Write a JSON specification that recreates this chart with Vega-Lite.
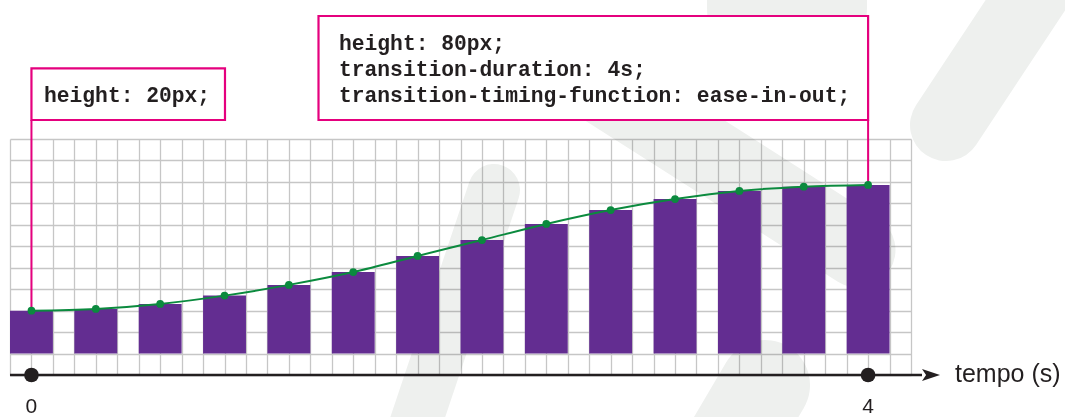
{
  "$schema": "https://vega.github.io/schema/vega-lite/v6.json",
  "width": 901,
  "height": 236,
  "autosize": "none",
  "padding": {"left": 10, "top": 139, "right": 154, "bottom": 42},
  "background": "white",
  "config": {"view": {"stroke": null}},
  "data": {"values": [
    {"t": 0, "h": 20.0},
    {"t": 0.307692, "h": 20.8},
    {"t": 0.615385, "h": 23.1},
    {"t": 0.923077, "h": 27.0},
    {"t": 1.230769, "h": 32.0},
    {"t": 1.538462, "h": 38.0},
    {"t": 1.846154, "h": 45.5},
    {"t": 2.153846, "h": 52.9},
    {"t": 2.461538, "h": 60.4},
    {"t": 2.769231, "h": 66.9},
    {"t": 3.076923, "h": 72.0},
    {"t": 3.384615, "h": 75.8},
    {"t": 3.692308, "h": 77.8},
    {"t": 4, "h": 78.6}
  ]},
  "layer": [
    {
      "data": {"values": [{}]},
      "mark": {"type": "rule", "color": "#eef0ee", "strokeWidth": 72, "strokeCap": "round", "blend": "multiply"},
      "encoding": {
        "x": {"datum": 5.085, "type": "quantitative",
          "scale": {"domain": [-0.102564, 4.205128], "nice": false, "zero": false, "padding": 0},
          "axis": {"title": null, "labels": false, "ticks": false, "domain": false, "grid": true, "gridColor": "#c6c6c6", "gridWidth": 1.3, "tickCount": 200,
            "values": [-0.102564, 0, 0.102564, 0.205128, 0.307692, 0.410256, 0.512821, 0.615385, 0.717949, 0.820513, 0.923077, 1.025641, 1.128205, 1.230769, 1.333333, 1.435897, 1.538462, 1.641026, 1.74359, 1.846154, 1.948718, 2.051282, 2.153846, 2.25641, 2.358974, 2.461538, 2.564103, 2.666667, 2.769231, 2.871795, 2.974359, 3.076923, 3.179487, 3.282051, 3.384615, 3.487179, 3.589744, 3.692308, 3.794872, 3.897436, 4.0, 4.102564, 4.205128]}},
        "x2": {"datum": 4.3725},
        "y": {"datum": 211.4, "type": "quantitative",
          "scale": {"domain": [-10, 100], "nice": false, "zero": false, "padding": 0},
          "axis": {"title": null, "labels": false, "ticks": false, "domain": false, "grid": true, "gridColor": "#c6c6c6", "gridWidth": 1.3, "tickCount": 200,
            "values": [-10, 0, 10, 20, 30, 40, 50, 60, 70, 80, 90, 100]}},
        "y2": {"datum": 106.5}
      }
    },
    {
      "data": {"values": [{}]},
      "mark": {"type": "rule", "color": "#eef0ee", "strokeWidth": 75, "strokeCap": "round", "blend": "multiply"},
      "encoding": {
        "x": {"datum": 2.527, "type": "quantitative"}, "x2": {"datum": 3.9517},
        "y": {"datum": 136.8, "type": "quantitative"}, "y2": {"datum": 48.26}
      }
    },
    {
      "data": {"values": [{}]},
      "mark": {"type": "rule", "color": "#eef0ee", "strokeWidth": 52, "strokeCap": "round", "blend": "multiply"},
      "encoding": {
        "x": {"datum": 2.2114, "type": "quantitative"}, "x2": {"datum": 1.762},
        "y": {"datum": 76.2, "type": "quantitative"}, "y2": {"datum": -54.3}
      }
    },
    {
      "data": {"values": [{}]},
      "mark": {"type": "rule", "color": "#eef0ee", "strokeWidth": 90, "strokeCap": "round", "blend": "multiply"},
      "encoding": {
        "x": {"datum": 3.5071, "type": "quantitative"}, "x2": {"datum": 3.2681},
        "y": {"datum": -14.7, "type": "quantitative"}, "y2": {"datum": -54.3}
      }
    },
    {
      "data": {"values": [{}]},
      "mark": {"type": "rule", "color": "#eef0ee", "strokeWidth": 160, "strokeCap": "round", "blend": "multiply"},
      "encoding": {
        "x": {"datum": 3.6123, "type": "quantitative"}, "x2": {"datum": 3.6123},
        "y": {"datum": 202.1, "type": "quantitative"}, "y2": {"datum": 161.1}
      }
    },
    {
      "mark": {"type": "bar", "color": "#632d91", "width": 42.9},
      "encoding": {
        "x": {"field": "t", "type": "quantitative"},
        "y": {"field": "h", "type": "quantitative"},
        "y2": {"datum": 0}
      }
    },
    {
      "data": {"values": [{}]},
      "mark": {"type": "rule", "color": "#e5007e", "strokeWidth": 2},
      "encoding": {
        "x": {"datum": 0, "type": "quantitative"},
        "y": {"datum": 20, "type": "quantitative"}, "y2": {"datum": 108.86}
      }
    },
    {
      "data": {"values": [{}]},
      "mark": {"type": "rule", "color": "#e5007e", "strokeWidth": 2},
      "encoding": {
        "x": {"datum": 4, "type": "quantitative"},
        "y": {"datum": 78.6, "type": "quantitative"}, "y2": {"datum": 108.86}
      }
    },
    {
      "mark": {"type": "line", "color": "#0b8a3e", "strokeWidth": 2, "interpolate": "monotone"},
      "encoding": {
        "x": {"field": "t", "type": "quantitative"},
        "y": {"field": "h", "type": "quantitative"}
      }
    },
    {
      "mark": {"type": "point", "filled": true, "color": "#0b8a3e", "size": 60, "opacity": 1},
      "encoding": {
        "x": {"field": "t", "type": "quantitative"},
        "y": {"field": "h", "type": "quantitative"}
      }
    },
    {
      "data": {"values": [{}]},
      "mark": {"type": "rect", "fill": "white", "stroke": "#e5007e", "strokeWidth": 2.2},
      "encoding": {
        "x": {"datum": 0, "type": "quantitative"}, "x2": {"datum": 0.9253},
        "y": {"datum": 132.95, "type": "quantitative"}, "y2": {"datum": 108.86}
      }
    },
    {
      "data": {"values": [{}]},
      "mark": {"type": "rect", "fill": "white", "stroke": "#e5007e", "strokeWidth": 2.2},
      "encoding": {
        "x": {"datum": 1.3724, "type": "quantitative"}, "x2": {"datum": 4},
        "y": {"datum": 157.33, "type": "quantitative"}, "y2": {"datum": 108.86}
      }
    },
    {
      "data": {"values": [{}]},
      "mark": {"type": "text", "text": "height: 20px;", "font": "Liberation Mono", "fontWeight": "bold", "fontSize": 21.3, "color": "#231f20", "align": "left", "baseline": "alphabetic"},
      "encoding": {
        "x": {"datum": 0.06, "type": "quantitative"},
        "y": {"datum": 117.4, "type": "quantitative"}
      }
    },
    {
      "data": {"values": [{}]},
      "mark": {"type": "text", "text": ["height: 80px;", "transition-duration: 4s;", "transition-timing-function: ease-in-out;"], "lineHeight": 26, "font": "Liberation Mono", "fontWeight": "bold", "fontSize": 21.3, "color": "#231f20", "align": "left", "baseline": "alphabetic"},
      "encoding": {
        "x": {"datum": 1.4704, "type": "quantitative"},
        "y": {"datum": 141.5, "type": "quantitative"}
      }
    },
    {
      "data": {"values": [{}]},
      "mark": {"type": "rule", "color": "#231f20", "strokeWidth": 2.6},
      "encoding": {
        "x": {"datum": -0.102564, "type": "quantitative"}, "x2": {"datum": 4.2577},
        "y": {"datum": -10, "type": "quantitative"}
      }
    },
    {
      "data": {"values": [{}]},
      "mark": {"type": "point", "filled": true, "opacity": 1, "color": "#231f20", "size": 324, "shape": "M -1 -0.67 L 1 0 L -1 0.67 L -0.55 0 Z"},
      "encoding": {
        "x": {"datum": 4.3008, "type": "quantitative"},
        "y": {"datum": -10, "type": "quantitative"}
      }
    },
    {
      "data": {"values": [{"t": 0, "label": "0"}, {"t": 4, "label": "4"}]},
      "layer": [
        {
          "mark": {"type": "point", "filled": true, "opacity": 1, "color": "#231f20", "size": 215, "shape": "circle"},
          "encoding": {
            "x": {"field": "t", "type": "quantitative"},
            "y": {"datum": -10, "type": "quantitative"}
          }
        },
        {
          "mark": {"type": "text", "font": "Liberation Sans", "fontSize": 21, "color": "#231f20", "align": "center", "baseline": "alphabetic"},
          "encoding": {
            "x": {"field": "t", "type": "quantitative"},
            "y": {"datum": -27.7, "type": "quantitative"},
            "text": {"field": "label"}
          }
        }
      ]
    },
    {
      "data": {"values": [{}]},
      "mark": {"type": "text", "text": "tempo (s)", "font": "Liberation Sans", "fontSize": 25, "color": "#231f20", "align": "left", "baseline": "alphabetic"},
      "encoding": {
        "x": {"datum": 4.4156, "type": "quantitative"},
        "y": {"datum": -13.3, "type": "quantitative"}
      }
    }
  ]
}
